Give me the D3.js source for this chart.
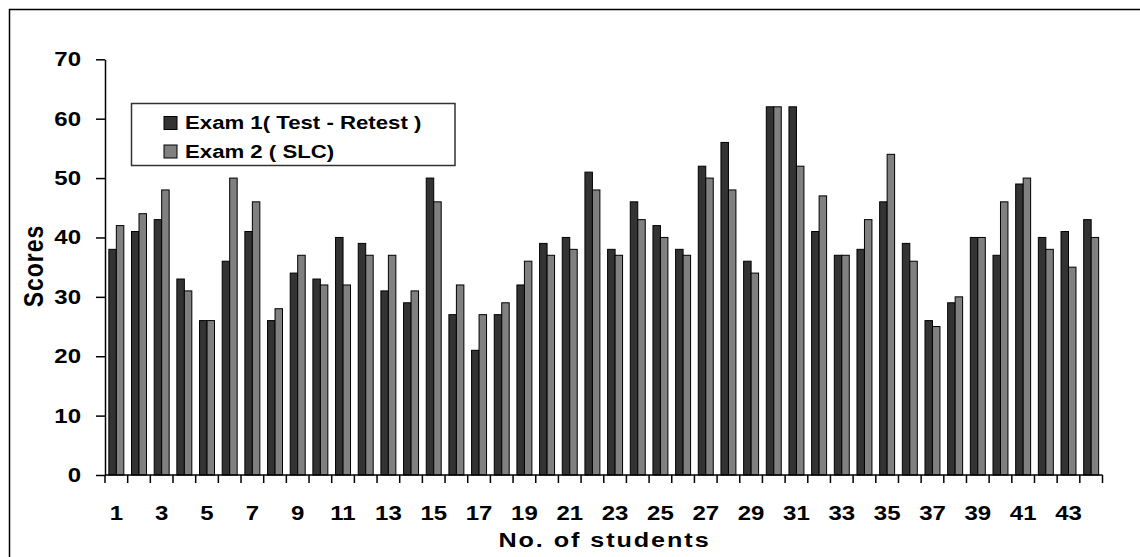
<!DOCTYPE html>
<html>
<head>
<meta charset="utf-8">
<script src="https://cdn.jsdelivr.net/npm/d3@7"></script>
<style>
  html, body { margin: 0; padding: 0; background: #fff; }
  svg { display: block; }
  text { font-family: "Liberation Sans", Arial, sans-serif; font-weight: bold; fill: #000; }
</style>
</head>
<body>
<svg id="chart" width="1140" height="557"></svg>
<script>
// Student numbers 1..44
const students = d3.range(1, 45);
// Exam 1 (Test - Retest) scores
const exam1 = [38, 41, 43, 33, 26, 36, 41, 26, 34, 33, 40, 39, 31, 29, 50, 27, 21, 27, 32, 39, 40, 51,
               38, 46, 42, 38, 52, 56, 36, 62, 62, 41, 37, 38, 46, 39, 26, 29, 40, 37, 49, 40, 41, 43];
// Exam 2 (SLC) scores
const exam2 = [42, 44, 48, 31, 26, 50, 46, 28, 37, 32, 32, 37, 37, 31, 46, 32, 27, 29, 36, 37, 38, 48,
               37, 43, 40, 37, 50, 48, 34, 62, 52, 47, 37, 43, 54, 36, 25, 30, 40, 46, 50, 38, 35, 40];
const seriesNames = ["Exam 1( Test - Retest )", "Exam 2 ( SLC)"];
const yTicks = [0, 10, 20, 30, 40, 50, 60, 70];
const xTickLabels = students.filter(d => d % 2 === 1);

const colors = ["#333333", "#808080"];
const stretch = 1.2; // wide lettering used throughout

const svg = d3.select("#chart");

// outer frame
svg.append("rect")
  .attr("x", 9.5).attr("y", 9.5)
  .attr("width", 1140).attr("height", 560)
  .attr("fill", "none").attr("stroke", "#000").attr("stroke-width", 1.5);

const plotLeft = 105, plotRight = 1102.5, plotTop = 59.3, plotBottom = 475;

const x = d3.scaleBand()
  .domain(students)
  .range([plotLeft, plotRight])
  .paddingInner(0.34)
  .paddingOuter(0.17);

const xs = d3.scaleBand()
  .domain([0, 1])
  .range([0, x.bandwidth()]);

const y = d3.scaleLinear().domain([0, 70]).range([plotBottom, plotTop]);

// bars
const rows = students.map((s, i) => ({ s, v: [exam1[i], exam2[i]] }));
const g = svg.append("g");
rows.forEach(r => {
  r.v.forEach((v, k) => {
    g.append("rect")
      .attr("x", x(r.s) + xs(k))
      .attr("y", y(v))
      .attr("width", xs.bandwidth())
      .attr("height", y(0) - y(v))
      .attr("fill", colors[k])
      .attr("stroke", "#000")
      .attr("stroke-width", 1);
  });
});

// y axis
const yAxis = d3.axisLeft(y).tickValues(yTicks).tickSize(9).tickPadding(15).tickSizeOuter(0);
const ya = svg.append("g").attr("transform", `translate(${plotLeft},0)`).call(yAxis);
ya.select(".domain").attr("stroke", "#000").attr("stroke-width", 1.5);
ya.selectAll(".tick line").attr("stroke", "#000").attr("stroke-width", 1.5);
ya.selectAll(".tick text")
  .style("font-size", "20px")
  .style("font-family", "'Liberation Sans', Arial, sans-serif")
  .style("font-weight", "bold")
  .attr("fill", "#000")
  .attr("x", -24 / stretch)
  .attr("transform", `scale(${stretch},1)`);

// x axis: ticks on category boundaries
const step = x.step();
const boundaries = d3.range(students.length + 1).map(i => plotLeft + i * step);
const xa = svg.append("g");
xa.append("line")
  .attr("x1", plotLeft).attr("x2", plotRight)
  .attr("y1", plotBottom).attr("y2", plotBottom)
  .attr("stroke", "#000").attr("stroke-width", 1.5);
xa.selectAll("line.tk").data(boundaries).join("line")
  .attr("class", "tk")
  .attr("x1", d => d).attr("x2", d => d)
  .attr("y1", plotBottom).attr("y2", plotBottom + 8)
  .attr("stroke", "#000").attr("stroke-width", 1.5);
xa.selectAll("text").data(xTickLabels).join("text")
  .attr("transform", d => `translate(${x(d) + x.bandwidth() / 2},520) scale(${stretch},1)`)
  .attr("text-anchor", "middle")
  .style("font-size", "20px")
  .text(d => d);

// axis titles
svg.append("text")
  .attr("transform", `translate(604.5,547) scale(${stretch},1)`)
  .attr("text-anchor", "middle")
  .style("font-size", "21px")
  .style("letter-spacing", "1.6px")
  .text("No. of students");

svg.append("text")
  .attr("transform", `translate(42.5,266) scale(${stretch},1) rotate(-90)`)
  .attr("text-anchor", "middle")
  .style("font-size", "23px")
  .style("letter-spacing", "1px")
  .text("Scores");

// legend
const lg = svg.append("g");
lg.append("rect")
  .attr("x", 131.5).attr("y", 103.5)
  .attr("width", 323.5).attr("height", 62)
  .attr("fill", "#fff").attr("stroke", "#333").attr("stroke-width", 1.5);
seriesNames.forEach((name, k) => {
  const cy = 123 + k * 28.5;
  lg.append("rect")
    .attr("x", 164).attr("y", cy - 6.5)
    .attr("width", 13).attr("height", 13)
    .attr("fill", colors[k]).attr("stroke", "#000").attr("stroke-width", 1);
  lg.append("text")
    .attr("transform", `translate(185,${cy + 6}) scale(${stretch},1)`)
    .style("font-size", "18.5px")
    .text(name);
});
</script>
</body>
</html>
